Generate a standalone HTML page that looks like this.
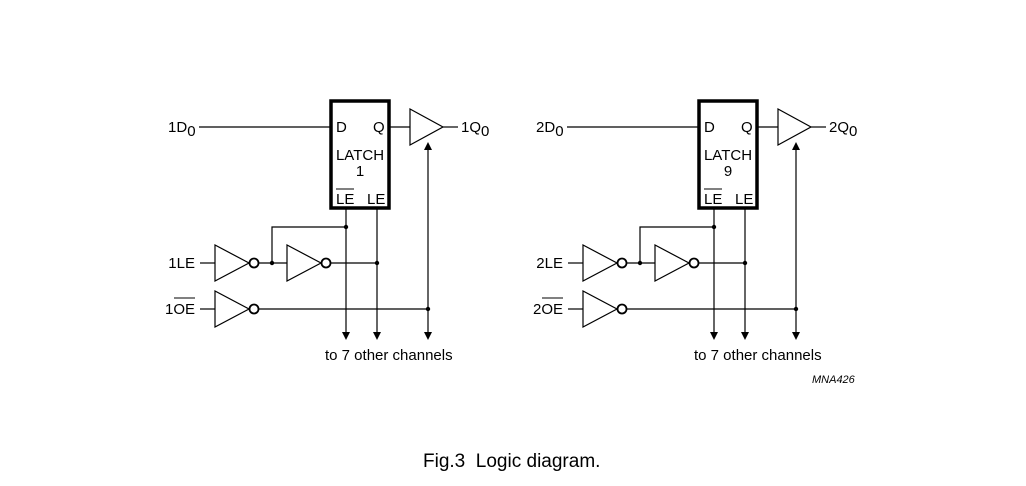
<!DOCTYPE html>
<html><head><meta charset="utf-8"><style>
html,body{margin:0;padding:0;background:#fff;}
svg{display:block;}
text{font-family:"Liberation Sans",Arial,sans-serif;fill:#000;}
</style></head><body>
<svg width="1026" height="486" viewBox="0 0 1026 486" xmlns="http://www.w3.org/2000/svg">
<defs>
<g id="ch" stroke="#000" stroke-width="1.2" fill="none">
  <line x1="199" y1="127" x2="331" y2="127"/>
  <rect x="331" y="101" width="58" height="107" stroke-width="3.5"/>
  <line x1="389" y1="127" x2="410" y2="127"/>
  <polygon points="410,109 410,145 443,127" fill="#fff"/>
  <line x1="443" y1="127" x2="458" y2="127"/>
  <line x1="428" y1="150" x2="428" y2="332"/>
  <polygon points="424,150 432,150 428,142" fill="#000" stroke="none"/>
  <polygon points="424,332 432,332 428,340" fill="#000" stroke="none"/>
  <line x1="346" y1="208" x2="346" y2="332"/>
  <polygon points="342,332 350,332 346,340" fill="#000" stroke="none"/>
  <line x1="377" y1="208" x2="377" y2="332"/>
  <polygon points="373,332 381,332 377,340" fill="#000" stroke="none"/>
  <polyline points="346,227 272,227 272,263"/>
  <line x1="200" y1="263" x2="215" y2="263"/>
  <polygon points="215,245 215,281 249,263" fill="#fff"/>
  <circle cx="254" cy="263" r="4.5" stroke-width="1.8" fill="#fff"/>
  <line x1="258.5" y1="263" x2="287" y2="263"/>
  <polygon points="287,245 287,281 321,263" fill="#fff"/>
  <circle cx="326" cy="263" r="4.5" stroke-width="1.8" fill="#fff"/>
  <line x1="330.5" y1="263" x2="377" y2="263"/>
  <line x1="200" y1="309" x2="215" y2="309"/>
  <polygon points="215,291 215,327 249,309" fill="#fff"/>
  <circle cx="254" cy="309" r="4.5" stroke-width="1.8" fill="#fff"/>
  <line x1="258.5" y1="309" x2="428" y2="309"/>
  <circle cx="346" cy="227" r="2.2" fill="#000" stroke="none"/>
  <circle cx="272" cy="263" r="2.2" fill="#000" stroke="none"/>
  <circle cx="377" cy="263" r="2.2" fill="#000" stroke="none"/>
  <circle cx="428" cy="309" r="2.2" fill="#000" stroke="none"/>
</g>
</defs>

<use href="#ch"/>
<use href="#ch" transform="translate(368,0)"/>

<g font-size="15">
  <text x="168" y="132">1D<tspan dy="4">0</tspan></text>
  <text x="336" y="132">D</text>
  <text x="373" y="132">Q</text>
  <text x="360" y="160" text-anchor="middle">LATCH</text>
  <text x="360" y="176" text-anchor="middle">1</text>
  <text x="336" y="204">LE</text>
  <line x1="336" y1="189" x2="354" y2="189" stroke="#000" stroke-width="1"/>
  <text x="367" y="204">LE</text>
  <text x="461" y="132">1Q<tspan dy="4">0</tspan></text>
  <text x="195" y="268" text-anchor="end">1LE</text>
  <text x="195" y="314" text-anchor="end">1OE</text>
  <line x1="174" y1="298" x2="195" y2="298" stroke="#000" stroke-width="1"/>
  <text x="325" y="360">to 7 other channels</text>

  <text x="536" y="132">2D<tspan dy="4">0</tspan></text>
  <text x="704" y="132">D</text>
  <text x="741" y="132">Q</text>
  <text x="728" y="160" text-anchor="middle">LATCH</text>
  <text x="728" y="176" text-anchor="middle">9</text>
  <text x="704" y="204">LE</text>
  <line x1="704" y1="189" x2="722" y2="189" stroke="#000" stroke-width="1"/>
  <text x="735" y="204">LE</text>
  <text x="829" y="132">2Q<tspan dy="4">0</tspan></text>
  <text x="563" y="268" text-anchor="end">2LE</text>
  <text x="563" y="314" text-anchor="end">2OE</text>
  <line x1="542" y1="298" x2="563" y2="298" stroke="#000" stroke-width="1"/>
  <text x="694" y="360">to 7 other channels</text>
</g>
<text x="812" y="383" font-size="11" font-style="italic">MNA426</text>
<text x="423" y="467" font-size="19">Fig.3&#160; Logic diagram.</text>
</svg>
</body></html>
